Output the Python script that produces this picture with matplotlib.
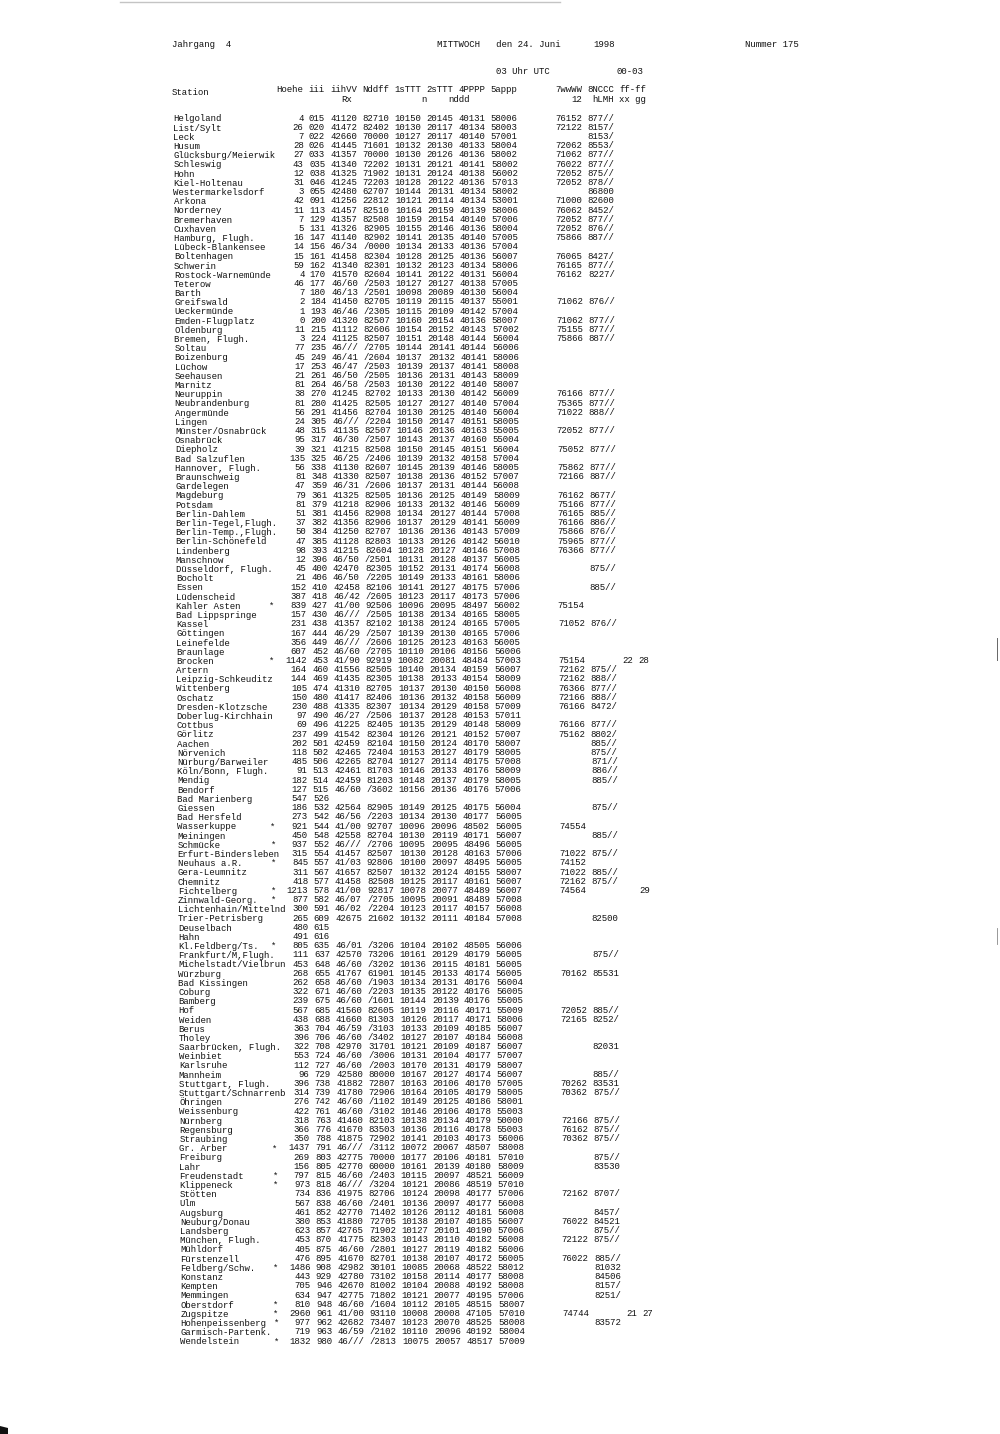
import matplotlib
matplotlib.use("Agg")
from matplotlib import pyplot as plt

# =============================================================================
# Data: synop list, 24.06.1998, 03 UTC
# =============================================================================

stations = [
    "Helgoland", "List/Sylt", "Leck", "Husum", "Glücksburg/Meierwik",
    "Schleswig", "Hohn", "Kiel-Holtenau", "Westermarkelsdorf", "Arkona",
    "Norderney", "Bremerhaven", "Cuxhaven", "Hamburg, Flugh.", "Lübeck-Blankensee",
    "Boltenhagen", "Schwerin", "Rostock-Warnemünde", "Teterow", "Barth",
    "Greifswald", "Ueckermünde", "Emden-Flugplatz", "Oldenburg", "Bremen, Flugh.",
    "Soltau", "Boizenburg", "Lüchow", "Seehausen", "Marnitz",
    "Neuruppin", "Neubrandenburg", "Angermünde", "Lingen", "Münster/Osnabrück",
    "Osnabrück", "Diepholz", "Bad Salzuflen", "Hannover, Flugh.", "Braunschweig",
    "Gardelegen", "Magdeburg", "Potsdam", "Berlin-Dahlem", "Berlin-Tegel,Flugh.",
    "Berlin-Temp.,Flugh.", "Berlin-Schönefeld", "Lindenberg", "Manschnow", "Düsseldorf, Flugh.",
    "Bocholt", "Essen", "Lüdenscheid", "Kahler Asten", "Bad Lippspringe",
    "Kassel", "Göttingen", "Leinefelde", "Braunlage", "Brocken",
    "Artern", "Leipzig-Schkeuditz", "Wittenberg", "Oschatz", "Dresden-Klotzsche",
    "Doberlug-Kirchhain", "Cottbus", "Görlitz", "Aachen", "Nörvenich",
    "Nürburg/Barweiler", "Köln/Bonn, Flugh.", "Mendig", "Bendorf", "Bad Marienberg",
    "Giessen", "Bad Hersfeld", "Wasserkuppe", "Meiningen", "Schmücke",
    "Erfurt-Bindersleben", "Neuhaus a.R.", "Gera-Leumnitz", "Chemnitz", "Fichtelberg",
    "Zinnwald-Georg.", "Lichtenhain/Mittelnd", "Trier-Petrisberg", "Deuselbach", "Hahn",
    "Kl.Feldberg/Ts.", "Frankfurt/M,Flugh.", "Michelstadt/Vielbrun", "Würzburg", "Bad Kissingen",
    "Coburg", "Bamberg", "Hof", "Weiden", "Berus",
    "Tholey", "Saarbrücken, Flugh.", "Weinbiet", "Karlsruhe", "Mannheim",
    "Stuttgart, Flugh.", "Stuttgart/Schnarrenb", "Öhringen", "Weissenburg", "Nürnberg",
    "Regensburg", "Straubing", "Gr. Arber", "Freiburg", "Lahr",
    "Freudenstadt", "Klippeneck", "Stötten", "Ulm", "Augsburg",
    "Neuburg/Donau", "Landsberg", "München, Flugh.", "Mühldorf", "Fürstenzell",
    "Feldberg/Schw.", "Konstanz", "Kempten", "Memmingen", "Oberstdorf",
    "Zugspitze", "Hohenpeissenberg", "Garmisch-Partenk.", "Wendelstein",
]

# mountain stations marked with a star
starred = [
    "Kahler Asten", "Brocken", "Wasserkuppe", "Schmücke", "Neuhaus a.R.",
    "Fichtelberg", "Zinnwald-Georg.", "Kl.Feldberg/Ts.", "Gr. Arber", "Freudenstadt",
    "Klippeneck", "Feldberg/Schw.", "Oberstdorf", "Zugspitze", "Hohenpeissenberg",
    "Wendelstein",
]

hoehe = [
    4, 26, 7, 28, 27, 43, 12, 31, 3, 42,
    11, 7, 5, 16, 14, 15, 59, 4, 46, 7,
    2, 1, 0, 11, 3, 77, 45, 17, 21, 81,
    38, 81, 56, 24, 48, 95, 39, 135, 56, 81,
    47, 79, 81, 51, 37, 50, 47, 98, 12, 45,
    21, 152, 387, 839, 157, 231, 167, 356, 607, 1142,
    164, 144, 105, 150, 230, 97, 69, 237, 202, 118,
    485, 91, 182, 127, 547, 186, 273, 921, 450, 937,
    315, 845, 311, 418, 1213, 877, 300, 265, 480, 491,
    805, 111, 453, 268, 262, 322, 239, 567, 438, 363,
    396, 322, 553, 112, 96, 396, 314, 276, 422, 318,
    366, 350, 1437, 269, 156, 797, 973, 734, 567, 461,
    380, 623, 453, 405, 476, 1486, 443, 705, 634, 810,
    2960, 977, 719, 1832,
]

iii = [
    "015", "020", "022", "026", "033", "035", "038", "046", "055", "091",
    "113", "129", "131", "147", "156", "161", "162", "170", "177", "180",
    "184", "193", "200", "215", "224", "235", "249", "253", "261", "264",
    "270", "280", "291", "305", "315", "317", "321", "325", "338", "348",
    "359", "361", "379", "381", "382", "384", "385", "393", "396", "400",
    "406", "410", "418", "427", "430", "438", "444", "449", "452", "453",
    "460", "469", "474", "480", "488", "490", "496", "499", "501", "502",
    "506", "513", "514", "515", "526", "532", "542", "544", "548", "552",
    "554", "557", "567", "577", "578", "582", "591", "609", "615", "616",
    "635", "637", "648", "655", "658", "671", "675", "685", "688", "704",
    "706", "708", "724", "727", "729", "738", "739", "742", "761", "763",
    "776", "788", "791", "803", "805", "815", "818", "836", "838", "852",
    "853", "857", "870", "875", "895", "908", "929", "946", "947", "948",
    "961", "962", "963", "980",
]

iihvv = [
    "41120", "41472", "42660", "41445", "41357", "41340", "41325", "41245", "42480", "41256",
    "41457", "41357", "41326", "41140", "46/34", "41458", "41340", "41570", "46/60", "46/13",
    "41450", "46/46", "41320", "41112", "41125", "46///", "46/41", "46/47", "46/50", "46/58",
    "41245", "41425", "41456", "46///", "41135", "46/30", "41215", "46/25", "41130", "41330",
    "46/31", "41325", "41218", "41456", "41356", "41250", "41128", "41215", "46/50", "42470",
    "46/50", "42458", "46/42", "41/00", "46///", "41357", "46/29", "46///", "46/60", "41/90",
    "41556", "41435", "41310", "41417", "41335", "46/27", "41225", "41542", "42459", "42465",
    "42265", "42461", "42459", "46/60", "", "42564", "46/56", "41/00", "42558", "46///",
    "41457", "41/03", "41657", "41458", "41/00", "46/07", "46/02", "42675", "", "",
    "46/01", "42570", "46/60", "41767", "46/60", "46/60", "46/60", "41560", "41660", "46/59",
    "46/60", "42970", "46/60", "46/60", "42580", "41882", "41780", "46/60", "46/60", "41460",
    "41670", "41875", "46///", "42775", "42770", "46/60", "46///", "41975", "46/60", "42770",
    "41880", "42765", "41775", "46/60", "41670", "42982", "42780", "42670", "42775", "46/60",
    "41/00", "42682", "46/59", "46///",
]

nddff = [
    "82710", "82402", "70000", "71601", "70000", "72202", "71902", "72203", "62707", "22812",
    "82510", "82508", "82905", "82902", "/0000", "82304", "82301", "82604", "/2503", "/2501",
    "82705", "/2305", "82507", "82606", "82507", "/2705", "/2604", "/2503", "/2505", "/2503",
    "82702", "82505", "82704", "/2204", "82507", "/2507", "82508", "/2406", "82607", "82507",
    "/2606", "82505", "82906", "82908", "82906", "82707", "82803", "82604", "/2501", "82305",
    "/2205", "82106", "/2605", "92506", "/2505", "82102", "/2507", "/2606", "/2705", "92919",
    "82505", "82305", "82705", "82406", "82307", "/2506", "82405", "82304", "82104", "72404",
    "82704", "81703", "81203", "/3602", "", "82905", "/2203", "92707", "82704", "/2706",
    "82507", "92806", "82507", "82508", "92817", "/2705", "/2204", "21602", "", "",
    "/3206", "73206", "/3202", "61901", "/1903", "/2203", "/1601", "82605", "81303", "/3103",
    "/3402", "31701", "/3006", "/2003", "80000", "72807", "72906", "/1102", "/3102", "82103",
    "83503", "72902", "/3112", "70000", "60000", "/2403", "/3204", "82706", "/2401", "71402",
    "72705", "71902", "82303", "/2801", "82701", "30101", "73102", "81002", "71802", "/1604",
    "93110", "73407", "/2102", "/2813",
]

s1ttt = [
    "10150", "10130", "10127", "10132", "10130", "10131", "10131", "10128", "10144", "10121",
    "10164", "10159", "10155", "10141", "10134", "10128", "10132", "10141", "10127", "10098",
    "10119", "10115", "10160", "10154", "10151", "10144", "10137", "10139", "10136", "10130",
    "10133", "10127", "10130", "10150", "10146", "10143", "10150", "10139", "10145", "10138",
    "10137", "10136", "10133", "10134", "10137", "10136", "10133", "10128", "10131", "10152",
    "10149", "10141", "10123", "10096", "10138", "10138", "10139", "10125", "10110", "10082",
    "10140", "10138", "10137", "10136", "10134", "10137", "10135", "10126", "10150", "10153",
    "10127", "10146", "10148", "10156", "", "10149", "10134", "10096", "10130", "10095",
    "10130", "10100", "10132", "10125", "10078", "10095", "10123", "10132", "", "",
    "10104", "10161", "10136", "10145", "10134", "10135", "10144", "10119", "10126", "10133",
    "10127", "10121", "10131", "10170", "10167", "10163", "10164", "10149", "10146", "10138",
    "10136", "10141", "10072", "10177", "10161", "10115", "10121", "10124", "10136", "10126",
    "10138", "10127", "10143", "10127", "10138", "10085", "10158", "10104", "10121", "10112",
    "10008", "10123", "10110", "10075",
]

s2ttt = [
    "20145", "20117", "20117", "20130", "20126", "20121", "20124", "20122", "20131", "20114",
    "20159", "20154", "20146", "20135", "20133", "20125", "20123", "20122", "20127", "20089",
    "20115", "20109", "20154", "20152", "20148", "20141", "20132", "20137", "20131", "20122",
    "20130", "20127", "20125", "20147", "20136", "20137", "20145", "20132", "20139", "20136",
    "20131", "20125", "20132", "20127", "20129", "20136", "20126", "20127", "20128", "20131",
    "20133", "20127", "20117", "20095", "20134", "20124", "20130", "20123", "20106", "20081",
    "20134", "20133", "20130", "20132", "20129", "20128", "20129", "20121", "20124", "20127",
    "20114", "20133", "20137", "20136", "", "20125", "20130", "20096", "20119", "20095",
    "20128", "20097", "20124", "20117", "20077", "20091", "20117", "20111", "", "",
    "20102", "20129", "20115", "20133", "20131", "20122", "20139", "20116", "20117", "20109",
    "20107", "20109", "20104", "20131", "20127", "20106", "20105", "20125", "20106", "20134",
    "20116", "20103", "20067", "20106", "20139", "20097", "20086", "20098", "20097", "20112",
    "20107", "20101", "20110", "20119", "20107", "20068", "20114", "20088", "20077", "20105",
    "20008", "20070", "20096", "20057",
]

p4pppp = [
    "40131", "40134", "40140", "40133", "40136", "40141", "40138", "40136", "40134", "40134",
    "40139", "40140", "40136", "40140", "40136", "40136", "40134", "40131", "40138", "40130",
    "40137", "40142", "40136", "40143", "40144", "40144", "40141", "40141", "40143", "40140",
    "40142", "40140", "40140", "40151", "40163", "40160", "40151", "40158", "40146", "40152",
    "40144", "40149", "40146", "40144", "40141", "40143", "40142", "40146", "40137", "40174",
    "40161", "40175", "40173", "48497", "40165", "40165", "40165", "40163", "40156", "48484",
    "40159", "40154", "40150", "40158", "40158", "40153", "40148", "40152", "40170", "40179",
    "40175", "40176", "40179", "40176", "", "40175", "40177", "48502", "40171", "48496",
    "40163", "48495", "40155", "40161", "48489", "48489", "40157", "40184", "", "",
    "48505", "40179", "40181", "40174", "40176", "40176", "40176", "40171", "40171", "40185",
    "40184", "40187", "40177", "40179", "40174", "40170", "40179", "40186", "40178", "40179",
    "40178", "40173", "48507", "40181", "40180", "48521", "48519", "40177", "40177", "40181",
    "40185", "40190", "40182", "40182", "40172", "48522", "40177", "40192", "40195", "48515",
    "47105", "48525", "40192", "48517",
]

a5appp = [
    "58006", "58003", "57001", "58004", "58002", "58002", "56002", "57013", "58002", "53001",
    "58006", "57006", "58004", "57005", "57004", "56007", "58006", "56004", "57005", "56004",
    "55001", "57004", "58007", "57002", "56004", "56006", "58006", "58008", "58009", "58007",
    "56009", "57004", "56004", "58005", "55005", "55004", "56004", "57004", "58005", "57007",
    "56008", "58009", "56009", "57008", "56009", "57009", "56010", "57008", "56005", "56008",
    "58006", "57006", "57006", "56002", "58005", "57005", "57006", "56005", "56006", "57003",
    "56007", "58009", "56008", "56009", "57009", "57011", "58009", "57007", "58007", "58005",
    "57008", "58009", "58005", "57006", "", "56004", "56005", "56005", "56007", "56005",
    "57006", "56005", "58007", "56007", "56007", "57008", "56008", "57008", "", "",
    "56006", "56005", "56005", "56005", "56004", "56005", "55005", "55009", "58006", "56007",
    "56008", "56007", "57007", "58007", "56007", "57005", "58005", "58001", "55003", "50000",
    "55003", "56006", "58008", "57010", "58009", "56009", "57010", "57006", "56008", "56008",
    "56007", "57006", "56008", "56006", "56005", "58012", "58008", "58008", "57006", "58007",
    "57010", "58008", "58004", "57009",
]

w7wwww = [
    "76152", "72122", "", "72062", "71062", "76022", "72052", "72052", "", "71000",
    "76062", "72052", "72052", "75866", "", "76065", "76165", "76162", "", "",
    "71062", "", "71062", "75155", "75866", "", "", "", "", "",
    "76166", "75365", "71022", "", "72052", "", "75052", "", "75862", "72166",
    "", "76162", "75166", "76165", "76166", "75866", "75965", "76366", "", "",
    "", "", "", "75154", "", "71052", "", "", "", "75154",
    "72162", "72162", "76366", "72166", "76166", "", "76166", "75162", "", "",
    "", "", "", "", "", "", "", "74554", "", "",
    "71022", "74152", "71022", "72162", "74564", "", "", "", "", "",
    "", "", "", "70162", "", "", "", "72052", "72165", "",
    "", "", "", "", "", "70262", "70362", "", "", "72166",
    "76162", "70362", "", "", "", "", "", "72162", "", "",
    "76022", "", "72122", "", "76022", "", "", "", "", "",
    "74744", "", "", "",
]

n8nccc = [
    "877//", "8157/", "8153/", "8553/", "877//", "877//", "875//", "878//", "86800", "82600",
    "8452/", "877//", "876//", "887//", "", "8427/", "877//", "8227/", "", "",
    "876//", "", "877//", "877//", "887//", "", "", "", "", "",
    "877//", "877//", "888//", "", "877//", "", "877//", "", "877//", "887//",
    "", "8677/", "877//", "885//", "886//", "876//", "877//", "877//", "", "875//",
    "", "885//", "", "", "", "876//", "", "", "", "",
    "875//", "888//", "877//", "888//", "8472/", "", "877//", "8802/", "885//", "875//",
    "871//", "886//", "885//", "", "", "875//", "", "", "885//", "",
    "875//", "", "885//", "875//", "", "", "", "82500", "", "",
    "", "875//", "", "85531", "", "", "", "885//", "8252/", "",
    "", "82031", "", "", "885//", "83531", "875//", "", "", "875//",
    "875//", "875//", "", "875//", "83530", "", "", "8707/", "", "8457/",
    "84521", "875//", "875//", "", "885//", "81032", "84506", "8157/", "8251/", "",
    "", "83572", "", "",
]

# gusts ff-ff (xx, gg), only few stations
gusts = {"Brocken": ("22", "28"), "Fichtelberg": ("", "29"), "Zugspitze": ("21", "27")}

# =============================================================================
# Layout (pixels of the 1000 x 1434 page)
# =============================================================================

W, H = 1000, 1434
ROW0_Y = 118.0
ROW_DY = 9.195
SKEW = 7.5          # the scan is a little rotated: rows drift to the right
CW = 5.35           # width of one typewriter character
NAME_X = 173.0
NUM_X = 282.0
FONT = "Liberation Mono"
FS = 6.45
INK = "#111111"

fig = plt.figure(figsize=(W / 100, H / 100), dpi=100)
ax = fig.add_axes([0, 0, 1, 1])
ax.set_xlim(0, W)
ax.set_ylim(H, 0)
ax.axis("off")


def put(x, y, s, size=FS):
    ax.text(x, y, s, fontfamily=FONT, fontsize=size, color=INK,
            ha="left", va="baseline")


# --- page head ---
put(172, 47, "Jahrgang  4")
put(437, 47, "MITTWOCH   den 24. Juni")
put(593, 47, "1998")
put(745, 47, "Nummer 175")
put(NUM_X + 40 * CW, 74, "03 Uhr UTC")
put(NUM_X + 62.5 * CW, 74, "00-03")

put(172, 95, "Station")
head1 = [("Hoehe", -1), ("iii", 5), ("iihVV", 9), ("Nddff", 15), ("1sTTT", 21),
         ("2sTTT", 27), ("4PPPP", 33), ("5appp", 39), ("7wwWW", 51),
         ("8NCCC", 57), ("ff-ff", 63)]
head2 = [("Rx", 11), ("n", 26), ("nddd", 31), ("12", 54), ("hLMH", 58), ("xx gg", 63)]
for s, c in head1:
    put(NUM_X + c * CW, 92.5, s)
for s, c in head2:
    put(NUM_X + c * CW, 102, s)

# --- table ---
columns = [
    ([str(h) for h in hoehe], 0, 4),
    (iii, 5, 3),
    (iihvv, 9, 5),
    (nddff, 15, 5),
    (s1ttt, 21, 5),
    (s2ttt, 27, 5),
    (p4pppp, 33, 5),
    (a5appp, 39, 5),
    (w7wwww, 51, 5),
    (n8nccc, 57, 5),
]

n_rows = len(stations)
for i, name in enumerate(stations):
    y = ROW0_Y + i * ROW_DY + 2.6
    dx = SKEW * i / (n_rows - 1)
    put(NAME_X + dx, y + 0.8, name)
    if name in starred:
        put(NAME_X + dx + 17.4 * CW, y + 0.8, "*")
    for values, col, width in columns:
        s = values[i]
        if s:
            put(NUM_X + dx + (col + width - len(s)) * CW, y, s)
    if name in gusts:
        xx, gg = gusts[name]
        if xx:
            put(NUM_X + dx + 63 * CW, y, xx)
        if gg:
            put(NUM_X + dx + 66 * CW, y, gg)

# --- scan traces at the page border ---
ax.plot([120, 560], [1.5, 1.5], color="#c4c4c4", lw=1.0)
ax.plot([997, 997], [638, 660], color="#666666", lw=0.7)
ax.plot([997, 997], [928, 944], color="#888888", lw=0.6)
ax.fill([0, 8, 8, 0], [1426, 1428, 1434, 1434], color="#111111", lw=0)

fig.savefig("out.png", dpi=100, facecolor="white")
